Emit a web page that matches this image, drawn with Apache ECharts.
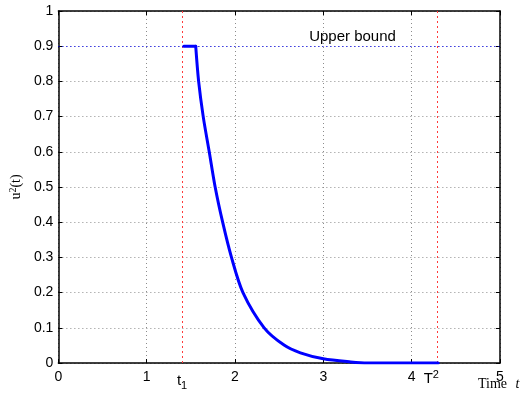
<!DOCTYPE html>
<html>
<head>
<meta charset="utf-8">
<script src="https://cdn.jsdelivr.net/npm/echarts@6/dist/echarts.min.js"></script>
<style>
    html, body { margin: 0; padding: 0; background: #fff; }
    #main { width: 527px; height: 394px; }
</style>
</head>
<body>
<div id="main"></div>
<script>
    // curve: flat part at the bound, then the decay
    var flatT = [1.42, 1.555];
    var flatU = [0.9, 0.9];
    var decayT = [1.555, 1.588, 1.64, 1.708, 1.775, 1.86, 1.96, 2.09, 2.33, 2.555, 2.74, 3.0, 3.31, 3.5, 4.30];
    var decayU = [0.9, 0.8, 0.7, 0.6, 0.5, 0.4, 0.3, 0.2, 0.1, 0.051, 0.029, 0.012, 0.003, 0, 0];
    var xTicks = [0, 1, 2, 3, 4, 5];
    var yTicks = [0, 0.1, 0.2, 0.3, 0.4, 0.5, 0.6, 0.7, 0.8, 0.9, 1];
    var t1 = 1.40, T2 = 4.29, upperBound = 0.9;

    var myChart = echarts.init(document.getElementById('main'));

    function toPts(xs, ys) {
        var out = [];
        for (var i = 0; i < xs.length; i++) {
            out.push([xs[i], ys[i]]);
        }
        return out;
    }

    var gridDot = { color: '#8c8c8c', type: [1, 3], width: 1 };
    var redDot = { color: '#ff3b3b', type: [2, 3], width: 1 };
    var fontMain = 'Liberation Sans, Arial, sans-serif';

    option = {
        animation: false,
        grid: { left: 57, right: 27, top: 11, bottom: 31 },
        xAxis: [
            {
                type: 'value', min: 0, max: 5, interval: 1,
                axisLine: { show: true, onZero: false, lineStyle: { color: '#000', width: 1.5 } },
                axisTick: { inside: true, length: 4, lineStyle: { color: '#000' } },
                axisLabel: { margin: 7, color: '#000', fontSize: 14, fontFamily: fontMain,
                    formatter: function (v) { return xTicks.indexOf(v) >= 0 ? String(v) : ''; } },
                splitLine: { show: true, lineStyle: gridDot }
            },
            {
                type: 'value', min: 0, max: 5, interval: 1, position: 'top',
                axisLine: { show: true, onZero: false, lineStyle: { color: '#000', width: 1.5 } },
                axisTick: { inside: true, length: 4, lineStyle: { color: '#000' } },
                axisLabel: { show: false },
                splitLine: { show: false }
            }
        ],
        yAxis: [
            {
                type: 'value', min: 0, max: 1, interval: 0.1,
                name: 'u{s|2}(t)', nameLocation: 'middle', nameRotate: 90, nameGap: 33,
                nameTextStyle: { color: '#000', fontSize: 14, fontFamily: 'Liberation Serif, Times New Roman, serif',
                    rich: { s: { fontSize: 10, verticalAlign: 'top', padding: [0, 0, 6, 0], fontFamily: 'Liberation Serif, serif' } } },
                axisLine: { show: true, onZero: false, lineStyle: { color: '#000', width: 1.5 } },
                axisTick: { inside: true, length: 4, lineStyle: { color: '#000' } },
                axisLabel: { margin: 5, color: '#000', fontSize: 14, fontFamily: fontMain,
                    formatter: function (v) {
                        var r = Math.round(v * 10) / 10;
                        return r === 0 ? '0' : (r === 1 ? '1' : r.toFixed(1));
                    } },
                splitLine: { show: true, lineStyle: gridDot }
            },
            {
                type: 'value', min: 0, max: 1, interval: 0.1, position: 'right',
                axisLine: { show: true, onZero: false, lineStyle: { color: '#000', width: 1.5 } },
                axisTick: { inside: true, length: 4, lineStyle: { color: '#000' } },
                axisLabel: { show: false },
                splitLine: { show: false }
            }
        ],
        series: [
            {
                name: 'flat',
                type: 'line',
                data: toPts(flatT, flatU),
                showSymbol: false,
                symbol: 'none',
                lineStyle: { color: '#0000ff', width: 3, cap: 'round' },
                z: 5,
                markLine: {
                    silent: true,
                    symbol: 'none',
                    animation: false,
                    data: [
                        { xAxis: t1, lineStyle: redDot,
                          label: { show: true, position: 'start', distance: 7, formatter: '{a|t}{b|1}',
                                   rich: { a: { fontSize: 15, color: '#000', fontFamily: fontMain },
                                           b: { fontSize: 11, color: '#000', fontFamily: fontMain, verticalAlign: 'bottom', padding: [10, 0, 0, 0] } } } },
                        { xAxis: T2, lineStyle: redDot,
                          label: { show: true, position: 'start', distance: 6, offset: [-6, 0], formatter: '{a|T}{b|2}',
                                   rich: { a: { fontSize: 15, color: '#000', fontFamily: fontMain },
                                           b: { fontSize: 11, color: '#000', fontFamily: fontMain, verticalAlign: 'top', padding: [0, 0, 8, 0] } } } },
                        { yAxis: upperBound, lineStyle: { color: '#0000ff', type: [1, 3], width: 1 },
                          label: { show: false } }
                    ]
                },
                markPoint: {
                    symbol: 'circle', symbolSize: 0,
                    label: { show: true, color: '#000', fontSize: 15, fontFamily: fontMain, formatter: 'Upper bound' },
                    data: [{ coord: [3.33, 0.927] }]
                }
            },
            {
                name: 'decay',
                type: 'line',
                data: toPts(decayT, decayU),
                showSymbol: false,
                symbol: 'none',
                smooth: 0.3,
                lineStyle: { color: '#0000ff', width: 3, cap: 'round' },
                z: 5
            }
        ],
        graphic: [
            {
                type: 'text', left: 478, top: 377,
                style: {
                    text: 'Time {i|t}',
                    fill: '#000',
                    font: '14px Liberation Serif, Times New Roman, serif',
                    rich: { i: { fontStyle: 'italic', fontSize: 14, fontFamily: 'Liberation Serif, serif', padding: [0, 0, 0, 5] } }
                }
            }
        ]
    };
    myChart.setOption(option);
</script>
</body>
</html>
